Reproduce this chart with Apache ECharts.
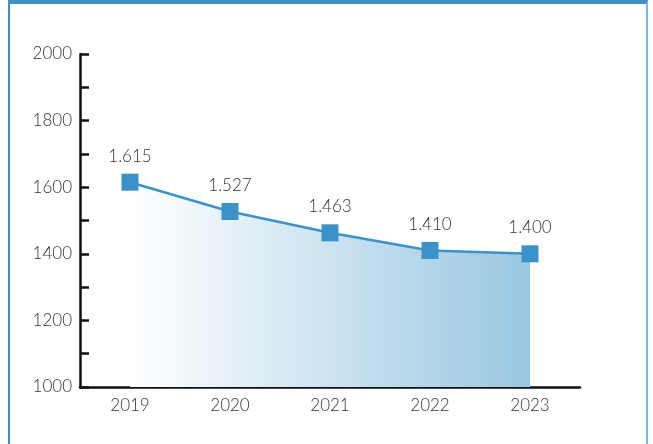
<!DOCTYPE html>
<html><head><meta charset="utf-8">
<script src="https://cdn.jsdelivr.net/npm/echarts@6/dist/echarts.min.js"></script>
<style>
html,body{margin:0;padding:0;background:#fff;}
#frame{position:absolute;left:8px;top:0;width:640px;height:444px;border-left:2px solid #3a93c8;border-right:2px solid #7ab8de;border-top:4px solid #3a93c8;box-sizing:border-box;}
#c{position:absolute;left:0;top:0;width:653px;height:444px;}
</style></head>
<body>
<div id="frame"></div>
<div id="c"></div>
<script>
const categories = ['2019','2020','2021','2022','2023'];
const values = [1615, 1527, 1463, 1410, 1400];
const yTicks = [1000, 1200, 1400, 1600, 1800, 2000];

const chart = echarts.init(document.getElementById('c'), null, {renderer:'canvas'});
const font = 'Lato';
chart.setOption({
  animation:false,
  grid:{left:80, right:73, top:54, bottom:57},
  xAxis:{
    type:'category', data:categories, boundaryGap:true,
    axisLine:{lineStyle:{color:'#111', width:2.5}},
    axisTick:{alignWithLabel:true, inside:true, length:7, lineStyle:{color:'#111', width:2.5}},
    axisLabel:{color:'#333', fontFamily:font, fontWeight:300, fontSize:17, margin:10},
    splitLine:{show:false}
  },
  yAxis:{
    type:'value', min:1000, max:2000, interval:100,
    axisLine:{show:true, lineStyle:{color:'#111', width:2.5}},
    axisTick:{show:true, inside:true, length:9, lineStyle:{color:'#111', width:2.5}},
    axisLabel:{color:'#333', fontFamily:font, fontWeight:300, fontSize:17, margin:8, padding:[4,0,0,0],
      formatter:function(v){return yTicks.indexOf(v)>=0 ? String(v) : '';}},
    splitLine:{show:false}
  },
  series:[{
    type:'line', data:values,
    symbol:'rect', symbolSize:17,
    itemStyle:{color:'#3a93c8'},
    lineStyle:{color:'#3a93c8', width:2.5},
    areaStyle:{opacity:1, color:new echarts.graphic.LinearGradient(0,0,1,0,[
      {offset:0, color:'rgba(255,255,255,1)'},
      {offset:1, color:'#99c7e1'}
    ])},
    label:{show:true, position:'top', distance:9, color:'#333', fontFamily:font, fontWeight:300, fontSize:17,
      formatter:function(p){const s=String(p.value);return s.slice(0,1)+'.'+s.slice(1);}}
  }]
});
</script>
</body></html>
